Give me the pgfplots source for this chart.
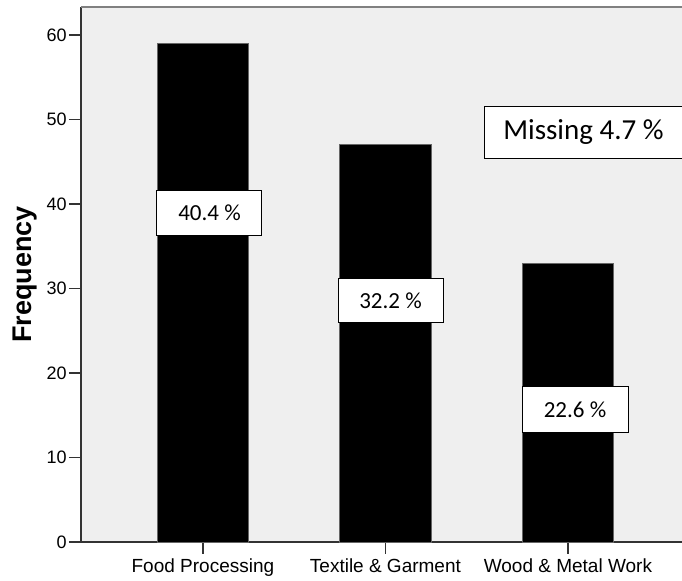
\documentclass[border=0pt]{standalone}
\usepackage{pgfplots}
\pgfplotsset{compat=1.18}
\usepackage{fontspec}
\setmainfont{Liberation Sans}
\newfontfamily\carlito{Carlito}
\definecolor{bgc}{HTML}{EFEFEF}
\definecolor{axc}{HTML}{333333}
\begin{document}
\begin{tikzpicture}
\begin{axis}[
  at={(0,0)}, anchor=south west,
  scale only axis,
  width=300.5pt, height=267.5pt,
  xmin=-0.668, xmax=2.625,
  ymin=0, ymax=63.3,
  axis lines*=left,
  axis line style={-, draw=axc, line width=0.8pt},
  axis background/.style={fill=bgc},
  ytick={0,10,20,30,40,50,60},
  xtick={0,1,2},
  xticklabels={Food Processing, Textile \& Garment, Wood \& Metal Work},
  tick align=outside,
  major tick length=6pt,
  tick style={draw=axc, line width=0.8pt},
  /pgf/number format/assume math mode=true,
  yticklabel style={font=\fontsize{9}{10}\selectfont, inner sep=1pt},
  xticklabel style={font=\fontsize{9.5}{11}\selectfont, inner sep=2pt},
  ylabel={\textbf{Frequency}},
  ylabel style={font=\fontsize{13.5}{15}\selectfont, at={(axis description cs:-0.0932,0.5)}, anchor=center},
  clip=false,
]
\addplot[ybar, bar width=0.5, fill=black, draw=black!60, line width=0.4pt] coordinates {(0,59) (1,47) (2,33)};
\draw[black!50, line width=0.8pt] (rel axis cs:0,1) -- (rel axis cs:1.01,1);
\node[draw=black, line width=0.5pt, fill=white, minimum width=52.5pt, minimum height=22.5pt, inner sep=0pt, font=\carlito\fontsize{11.5}{13}\selectfont] at (axis cs:0.036,38.9) {40.4 \%};
\node[draw=black, line width=0.5pt, fill=white, minimum width=52.5pt, minimum height=22pt, inner sep=0pt, font=\carlito\fontsize{11.5}{13}\selectfont] at (axis cs:1.028,28.6) {32.2 \%};
\node[draw=black, line width=0.5pt, fill=white, minimum width=53pt, minimum height=23pt, inner sep=0pt, font=\carlito\fontsize{11.5}{13}\selectfont] at (axis cs:2.039,15.7) {22.6 \%};
\node[draw=black, line width=0.5pt, fill=white, minimum width=99pt, minimum height=26pt, inner sep=0pt, anchor=west, font=\carlito\fontsize{14.5}{16}\selectfont] at (axis cs:1.540,48.5) {Missing 4.7 \%};
\end{axis}
\pgfresetboundingbox
\useasboundingbox (-40.5pt,-19.5pt) rectangle (300.5pt,271pt);
\end{tikzpicture}
\end{document}
